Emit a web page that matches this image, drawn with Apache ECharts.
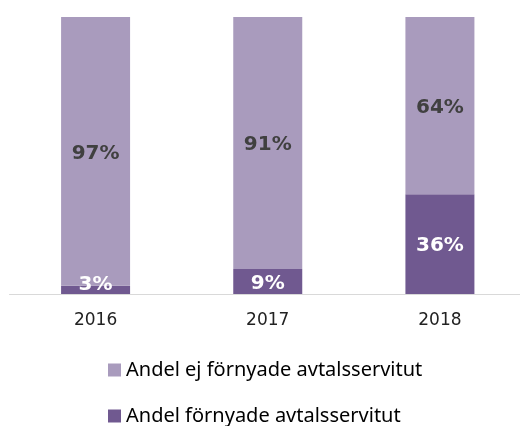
<!DOCTYPE html>
<html>
<head>
<meta charset="utf-8">
<script src="https://cdn.jsdelivr.net/npm/echarts@6/dist/echarts.min.js"></script>
<style>
  html, body { margin: 0; padding: 0; background: #fff; }
  #chart { width: 520px; height: 426px; }
</style>
</head>
<body>
<div id="chart"></div>
<script>
// data
const years = ['2016', '2017', '2018'];
const ejFornyade = [97, 91, 64];
const fornyade = [3, 9, 36];
const seriesNames = ['Andel ej förnyade avtalsservitut', 'Andel förnyade avtalsservitut'];

const chart = echarts.init(document.getElementById('chart'));

const legendBase = {
  left: 103,
  itemWidth: 13,
  itemHeight: 13,
  itemGap: 6,
  icon: 'rect',
  textStyle: { fontFamily: 'Noto Sans', fontSize: 20, color: '#000' }
};

const option = {
  animation: false,
  grid: { left: 9.5, top: 17, right: -6, bottom: 132, outerBoundsMode: 'none' },
  legend: [
    Object.assign({}, legendBase, { top: 355, data: [seriesNames[0]] }),
    Object.assign({}, legendBase, { top: 401, data: [seriesNames[1]] })
  ],
  xAxis: {
    type: 'category',
    data: years,
    axisLine: { lineStyle: { color: '#d9d9d9', width: 1 } },
    axisTick: { show: false },
    axisLabel: { fontFamily: 'DejaVu Sans', fontSize: 17, color: '#222', margin: 18 }
  },
  yAxis: {
    type: 'value',
    min: 0,
    max: 100,
    show: false
  },
  series: [
    {
      name: seriesNames[1],
      type: 'bar',
      stack: 'tot',
      barWidth: 69,
      itemStyle: { color: '#705990' },
      label: {
        show: true,
        position: 'inside',
        offset: [0, 2],
        formatter: '{c}%',
        fontFamily: 'DejaVu Sans',
        fontWeight: 'bold',
        fontSize: 20,
        color: '#fff'
      },
      data: fornyade.map((v, i) => i === 0 ? { value: v, label: { offset: [0, -5] } } : v)
    },
    {
      name: seriesNames[0],
      type: 'bar',
      stack: 'tot',
      barWidth: 69,
      itemStyle: { color: '#A99BBD' },
      label: {
        show: true,
        position: 'inside',
        offset: [0, 2],
        formatter: '{c}%',
        fontFamily: 'DejaVu Sans',
        fontWeight: 'bold',
        fontSize: 20,
        color: '#404040'
      },
      data: ejFornyade
    }
  ]
};

chart.setOption(option);
</script>
</body>
</html>
